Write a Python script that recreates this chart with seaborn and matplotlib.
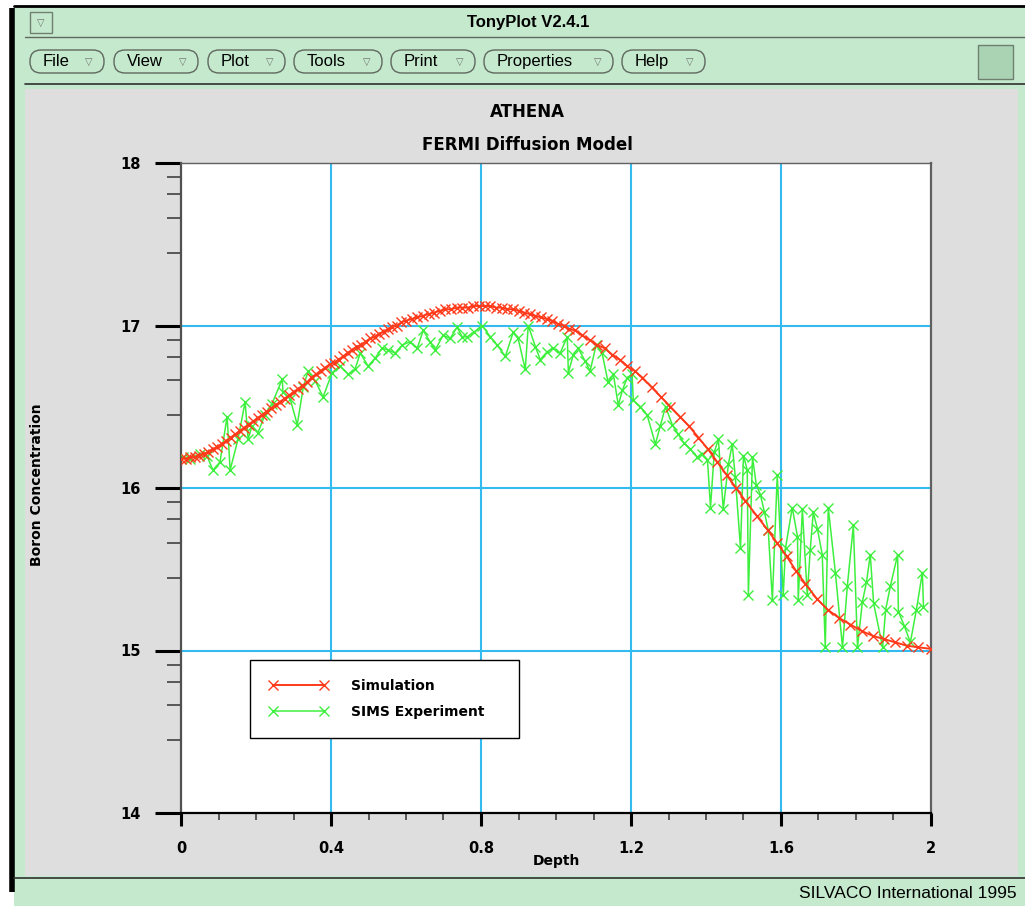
"""TonyPlot-style chart: boron profile, simulation vs SIMS experiment."""

import matplotlib

matplotlib.use("Agg")
import matplotlib.pyplot as plt
import numpy as np
import pandas as pd
import seaborn as sns
from matplotlib.patches import FancyBboxPatch, Rectangle

# --- data ----------------------------------------------------------------
sim_depth = [
    0.000, 0.012, 0.024, 0.036, 0.048, 0.060, 0.072, 0.084, 0.096, 0.108,
    0.120, 0.132, 0.144, 0.156, 0.168, 0.180, 0.192, 0.204, 0.216, 0.228,
    0.240, 0.252, 0.264, 0.276, 0.288, 0.300, 0.312, 0.324, 0.336, 0.348,
    0.360, 0.372, 0.384, 0.396, 0.408, 0.420, 0.432, 0.444, 0.456, 0.468,
    0.480, 0.492, 0.504, 0.516, 0.528, 0.540, 0.552, 0.564, 0.576, 0.588,
    0.600, 0.615, 0.630, 0.645, 0.660, 0.675, 0.690, 0.705, 0.720, 0.735,
    0.750, 0.765, 0.780, 0.795, 0.810, 0.825, 0.840, 0.855, 0.870, 0.885,
    0.900, 0.915, 0.930, 0.945, 0.960, 0.975, 0.990, 1.005, 1.020, 1.035,
    1.050, 1.070, 1.090, 1.110, 1.130, 1.150, 1.170, 1.190, 1.210, 1.230,
    1.255, 1.280, 1.305, 1.330, 1.355, 1.380, 1.405, 1.430, 1.455, 1.480,
    1.505, 1.535, 1.565, 1.590, 1.615, 1.640, 1.665, 1.695, 1.725, 1.755,
    1.785, 1.815, 1.845, 1.875, 1.905, 1.935, 1.965, 2.000,
]
sim_conc = [
    16.18, 16.18, 16.19, 16.19, 16.20, 16.21, 16.22, 16.24, 16.25, 16.27,
    16.29, 16.31, 16.33, 16.35, 16.37, 16.39, 16.41, 16.43, 16.45, 16.47,
    16.49, 16.51, 16.53, 16.55, 16.57, 16.59, 16.61, 16.63, 16.65, 16.68,
    16.70, 16.72, 16.74, 16.76, 16.77, 16.79, 16.81, 16.83, 16.85, 16.87,
    16.88, 16.90, 16.92, 16.93, 16.95, 16.96, 16.98, 16.99, 17.00, 17.02,
    17.03, 17.04, 17.05, 17.06, 17.07, 17.08, 17.09, 17.10, 17.10, 17.11,
    17.11, 17.11, 17.12, 17.12, 17.12, 17.12, 17.11, 17.11, 17.10, 17.10,
    17.09, 17.08, 17.07, 17.06, 17.05, 17.04, 17.03, 17.01, 17.00, 16.98,
    16.97, 16.94, 16.91, 16.88, 16.86, 16.82, 16.79, 16.75, 16.72, 16.68,
    16.62, 16.56, 16.50, 16.44, 16.38, 16.31, 16.24, 16.16, 16.08, 16.00,
    15.92, 15.83, 15.74, 15.66, 15.58, 15.49, 15.41, 15.32, 15.25, 15.20,
    15.16, 15.12, 15.09, 15.07, 15.05, 15.03, 15.02, 15.01,
]

sims_depth = [
    0.005, 0.024, 0.051, 0.069, 0.085, 0.104, 0.123, 0.131, 0.152, 0.171,
    0.179, 0.189, 0.205, 0.224, 0.243, 0.270, 0.272, 0.291, 0.310, 0.326,
    0.339, 0.358, 0.379, 0.403, 0.424, 0.446, 0.464, 0.478, 0.499, 0.518,
    0.536, 0.552, 0.571, 0.590, 0.611, 0.630, 0.646, 0.664, 0.678, 0.699,
    0.718, 0.736, 0.750, 0.763, 0.782, 0.803, 0.825, 0.843, 0.865, 0.886,
    0.899, 0.918, 0.926, 0.945, 0.958, 0.977, 0.993, 1.011, 1.030, 1.033,
    1.046, 1.059, 1.078, 1.091, 1.107, 1.123, 1.139, 1.153, 1.166, 1.177,
    1.190, 1.203, 1.206, 1.225, 1.243, 1.265, 1.278, 1.292, 1.310, 1.326,
    1.340, 1.358, 1.377, 1.390, 1.404, 1.412, 1.422, 1.433, 1.446, 1.460,
    1.470, 1.478, 1.492, 1.500, 1.510, 1.513, 1.524, 1.534, 1.545, 1.556,
    1.566, 1.577, 1.590, 1.606, 1.612, 1.630, 1.644, 1.646, 1.657, 1.670,
    1.678, 1.686, 1.697, 1.710, 1.718, 1.726, 1.745, 1.764, 1.777, 1.793,
    1.804, 1.817, 1.828, 1.838, 1.847, 1.871, 1.879, 1.892, 1.911, 1.913,
    1.929, 1.945, 1.961, 1.977, 1.980,
]
sims_conc = [
    16.19, 16.18, 16.21, 16.20, 16.11, 16.16, 16.44, 16.11, 16.30, 16.53,
    16.30, 16.38, 16.34, 16.45, 16.52, 16.67, 16.59, 16.55, 16.39, 16.62,
    16.72, 16.66, 16.56, 16.71, 16.75, 16.70, 16.73, 16.83, 16.75, 16.80,
    16.86, 16.85, 16.83, 16.88, 16.90, 16.86, 16.97, 16.90, 16.85, 16.94,
    16.92, 16.99, 16.93, 16.93, 16.96, 17.00, 16.93, 16.88, 16.81, 16.96,
    16.92, 16.73, 17.00, 16.87, 16.79, 16.84, 16.86, 16.83, 16.93, 16.71,
    16.82, 16.86, 16.78, 16.72, 16.88, 16.83, 16.65, 16.70, 16.51, 16.60,
    16.68, 16.70, 16.54, 16.50, 16.45, 16.27, 16.38, 16.50, 16.39, 16.33,
    16.28, 16.24, 16.19, 16.21, 16.17, 15.88, 16.22, 16.30, 15.87, 16.15,
    16.27, 16.07, 15.63, 16.20, 16.11, 15.34, 16.19, 16.02, 15.96, 15.85,
    15.74, 15.31, 16.08, 15.34, 15.63, 15.88, 15.70, 15.31, 15.87, 15.34,
    15.62, 15.85, 15.75, 15.59, 15.02, 15.88, 15.48, 15.02, 15.40, 15.77,
    15.02, 15.30, 15.42, 15.59, 15.29, 15.02, 15.25, 15.40, 15.59, 15.24,
    15.15, 15.05, 15.25, 15.48, 15.27,
]

x_ticks = [0, 0.4, 0.8, 1.2, 1.6, 2]
x_labels = ["0", "0.4", "0.8", "1.2", "1.6", "2"]
y_ticks = [14, 15, 16, 17, 18]
menu_items = ["File", "View", "Plot", "Tools", "Print", "Properties", "Help"]

# --- colours ---------------------------------------------------------------
WIN_GREEN = "#c4e9cc"
PANEL_GRAY = "#dedede"
GRID_CYAN = "#33bbf0"
RED = "#ff3a1a"
GREEN = "#3ef03e"

W, H = 1025, 910

sns.set_theme(style="white")
plt.rcParams["font.family"] = ["DejaVu Sans"]
plt.rcParams["text.color"] = "black"
plt.rcParams["xtick.color"] = "black"
plt.rcParams["ytick.color"] = "black"
plt.rcParams["axes.labelcolor"] = "black"

fig = plt.figure(figsize=(W / 100, H / 100), dpi=100)
fig.patch.set_facecolor("white")

# --- window chrome, drawn in pixel coordinates ----------------------------
bg = fig.add_axes([0, 0, 1, 1], zorder=-10)
bg.set_xlim(0, W)
bg.set_ylim(H, 0)
bg.axis("off")

bg.add_patch(Rectangle((14, 6), W - 14, 900, color=WIN_GREEN, lw=0))
bg.add_patch(Rectangle((25, 89), 993, 787, color=PANEL_GRAY, lw=0))
bg.plot([14, W], [6, 6], color="black", lw=2)
bg.plot([12, 12], [8, 892], color="black", lw=4, solid_capstyle="butt")
bg.plot([25, W], [37, 37], color="#606860", lw=1)
bg.plot([25, W], [84, 84], color="#303030", lw=1.2)
bg.plot([14, W], [878, 878], color="#303030", lw=1.2)

# title bar
bg.add_patch(Rectangle((30, 12), 22, 21, fc=WIN_GREEN, ec="#708070", lw=1))
bg.text(41, 22.5, "▽", ha="center", va="center", fontsize=7, color="#707070")
bg.text(528, 22, "TonyPlot V2.4.1", ha="center", va="center",
        fontsize=12, fontweight="bold", family="Liberation Sans")

# menu buttons
btn_x = [(30, 104), (114, 198), (208, 285), (294, 382), (391, 475),
         (484, 613), (622, 705)]
for (x0, x1), name in zip(btn_x, menu_items):
    bg.add_patch(FancyBboxPatch((x0, 50), x1 - x0, 23,
                                boxstyle="round,pad=0,rounding_size=11",
                                fc=WIN_GREEN, ec="#606860", lw=1))
    bg.text(x0 + 13, 61.5, name, ha="left", va="center", fontsize=12,
            family="Liberation Sans")
    bg.text(x1 - 15, 62, "▽", ha="center", va="center", fontsize=7,
            color="#707070")
bg.add_patch(Rectangle((978, 45), 35, 34, fc="#a9d3b2", ec="#708070", lw=1))

bg.text(1017, 893, "SILVACO International 1995", ha="right", va="center",
        fontsize=12.5, family="Liberation Sans")

# plot titles and axis labels
bg.text(527, 112, "ATHENA", ha="center", va="center",
        fontsize=12, fontweight="bold")
bg.text(527, 145, "FERMI Diffusion Model", ha="center", va="center",
        fontsize=12, fontweight="bold")
bg.text(556, 861, "Depth", ha="center", va="center",
        fontsize=10, fontweight="bold")
bg.text(37, 485, "Boron Concentration", ha="center", va="center",
        fontsize=10, fontweight="bold", rotation=90)

# --- plot area --------------------------------------------------------------
ax = fig.add_axes([181 / W, 1 - 813 / H, 750 / W, 650 / H])
ax.set_facecolor("white")

sims = pd.DataFrame({"depth": sims_depth, "conc": sims_conc})
sim = pd.DataFrame({"depth": sim_depth, "conc": sim_conc})

sns.lineplot(data=sims, x="depth", y="conc", ax=ax, sort=False, estimator=None,
             color=GREEN, lw=1.1, marker="x", markersize=7,
             markeredgecolor=GREEN, markeredgewidth=1.0,
             label="SIMS Experiment", zorder=3)
sns.lineplot(data=sim, x="depth", y="conc", ax=ax, sort=False, estimator=None,
             color=RED, lw=1.4, marker="x", markersize=6.5,
             markeredgecolor=RED, markeredgewidth=1.0,
             label="Simulation", zorder=4)

ax.set_xlim(0, 2)
ax.set_ylim(14, 18)
ax.set_xlabel("")
ax.set_ylabel("")

ax.set_xticks(x_ticks)
ax.set_xticklabels(x_labels)
ax.set_xticks([t / 10 for t in range(21)], minor=True)
ax.set_yticks(y_ticks)
ax.set_yticklabels([str(t) for t in y_ticks])
# TonyPlot log minor ticks: 2.8, 4.6, 6.4, 8.2 within each decade
minor_y = [d + np.log10(m) for d in y_ticks[:-1] for m in (2.8, 4.6, 6.4, 8.2)]
ax.set_yticks(minor_y, minor=True)

ax.tick_params(axis="y", which="major", direction="out", length=19, width=2.2,
               color="black", pad=10, labelsize=10.5, left=True)
ax.tick_params(axis="y", which="minor", direction="out", length=10, width=1.1,
               color="#333333", left=True)
ax.tick_params(axis="x", which="major", direction="out", length=9, width=2.2,
               color="black", pad=11, labelsize=10.5, bottom=True)
ax.tick_params(axis="x", which="minor", direction="out", length=5, width=1.1,
               color="#333333", bottom=True)
for lab in ax.get_xticklabels() + ax.get_yticklabels():
    lab.set_fontweight("bold")
    lab.set_color("black")

ax.grid(False)
for xv in x_ticks[1:-1]:
    ax.axvline(xv, color=GRID_CYAN, lw=1.5, zorder=1)
for yv in y_ticks[1:-1]:
    ax.axhline(yv, color=GRID_CYAN, lw=1.5, zorder=1)

ax.spines["left"].set_color("#505050")
ax.spines["left"].set_linewidth(1.6)
ax.spines["bottom"].set_color("black")
ax.spines["bottom"].set_linewidth(1.6)
ax.spines["top"].set_color("#606060")
ax.spines["top"].set_linewidth(1.0)
ax.spines["right"].set_color("#606060")
ax.spines["right"].set_linewidth(1.6)

handles, labels = ax.get_legend_handles_labels()
order = [labels.index("Simulation"), labels.index("SIMS Experiment")]
leg = ax.legend([handles[i] for i in order], [labels[i] for i in order],
                loc="upper left", bbox_to_anchor=(0.092, 0.117, 0.359, 0.118),
                mode="expand", borderaxespad=0, numpoints=2,
                handlelength=4.3, handletextpad=1.6, borderpad=1.35,
                labelspacing=0.85, fancybox=False, framealpha=1,
                prop={"weight": "bold", "size": 10})
leg.get_frame().set_edgecolor("black")
leg.get_frame().set_linewidth(1.0)
for txt in leg.get_texts():
    txt.set_color("black")

fig.savefig("out.png", dpi=100)
